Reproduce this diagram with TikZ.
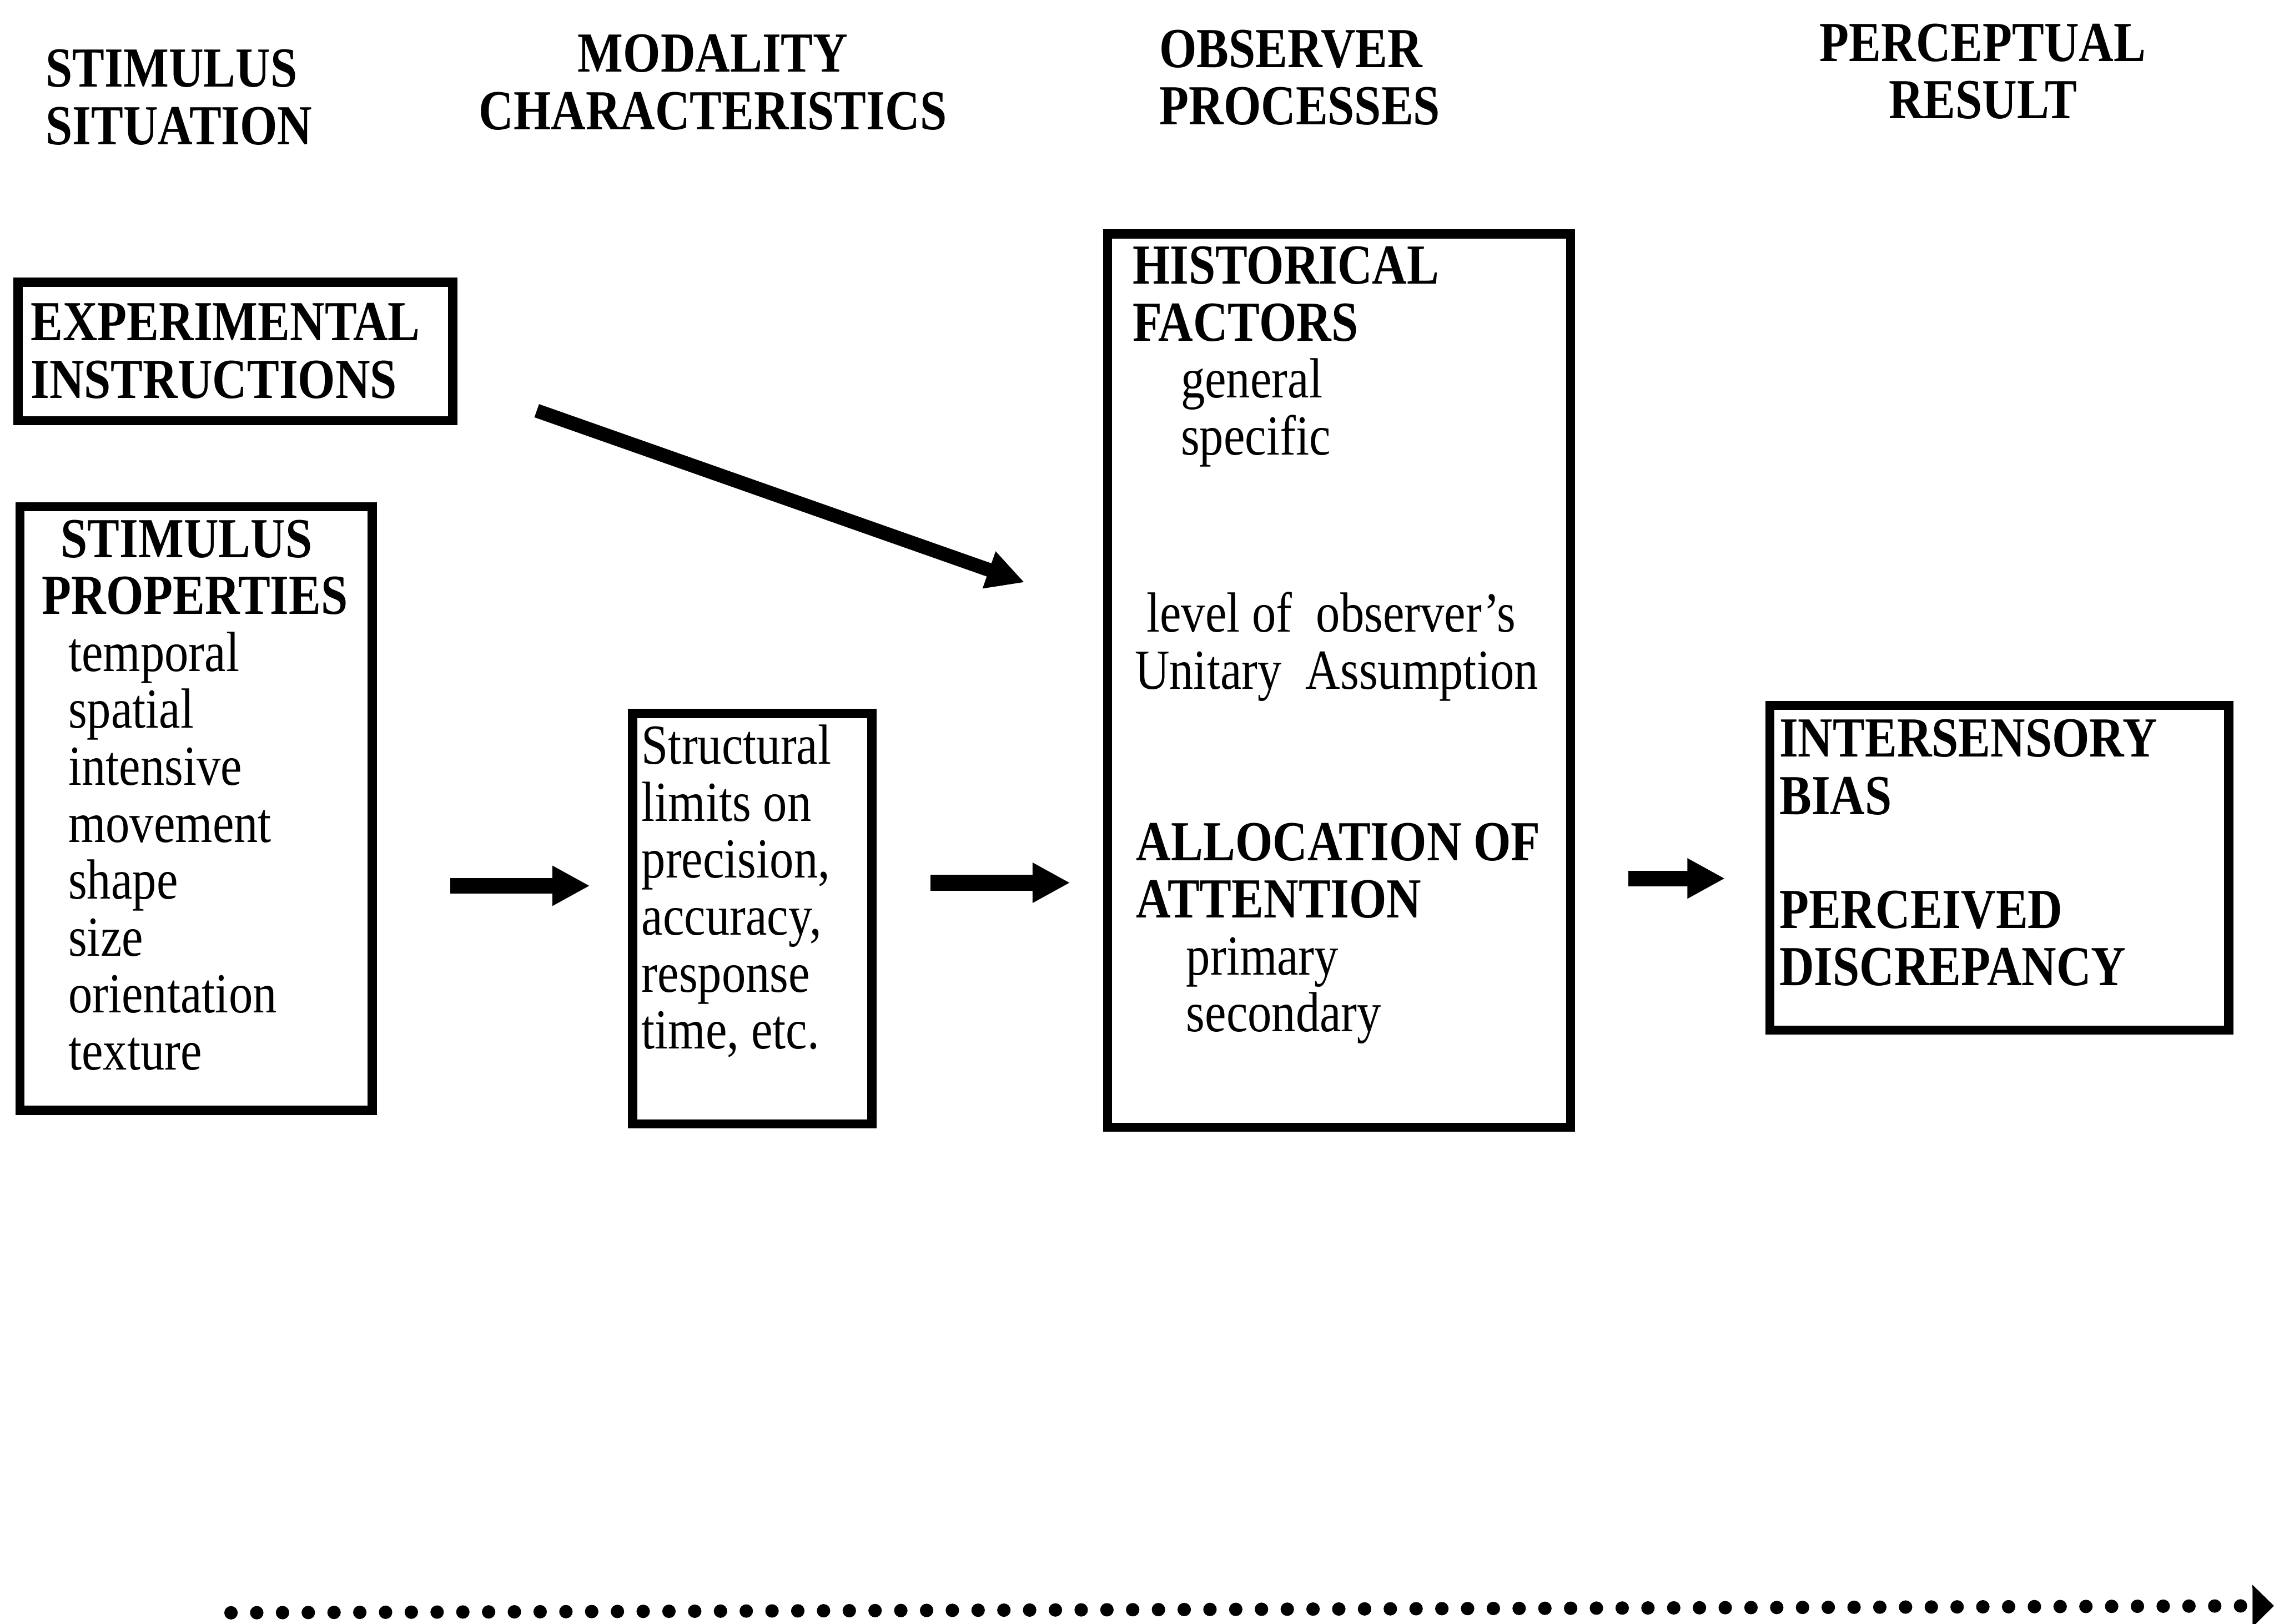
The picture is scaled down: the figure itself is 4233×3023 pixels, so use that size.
\documentclass[tikz,border=0pt]{standalone}
\usepackage{fontspec}
\setmainfont{Liberation Serif}[FakeStretch=0.85]
\usetikzlibrary{arrows.meta}

\begin{document}
\begin{tikzpicture}[
    x=0.005cm, y=-0.005cm,
    box/.style={rectangle, draw, line width=0.085cm, inner sep=0pt, anchor=north west},
    txt/.style={inner sep=0pt, align=left, anchor=base west, font=\fontsize{15}{15.1}\selectfont},
    head/.style={txt, font=\fontsize{15}{15.2}\selectfont\bfseries},
    fat/.style={line width=0.145cm, -{Triangle[length=0.35cm, width=0.35cm]}},
    dots/.style={line width=0.125cm, line cap=round, dash pattern=on 0pt off 0.24cm, -{Triangle[length=0.2cm, width=0.38cm]}},
]
\useasboundingbox (0,0) rectangle (4233,3023);

% === Column headings (placed by their last baseline) ===
\node[head] (hstim) at (84,269) {STIMULUS\\SITUATION};
\node[head, align=center, anchor=base] (hmod) at (1327,241) {MODALITY\\CHARACTERISTICS};
\node[head] (hobs) at (2157,232) {OBSERVER\\PROCESSES};
\node[head, align=center, anchor=base] (hres) at (3691,221) {PERCEPTUAL\\RESULT};

% === Stimulus situation ===
\node[box, minimum width=4.05cm, minimum height=1.29cm] (expbox) at (25,517) {};
\node[head] (exptxt) at (56,741) {EXPERIMENTAL\\INSTRUCTIONS};

\node[box, minimum width=3.28cm, minimum height=5.625cm] (stimbox) at (29,935) {};
\node[txt] (stimtxt) at (77,1992) {\hspace*{0.175cm}\textbf{STIMULUS}\\\textbf{PROPERTIES}\\
    \hspace*{0.245cm}temporal\\\hspace*{0.245cm}spatial\\\hspace*{0.245cm}intensive\\
    \hspace*{0.245cm}movement\\\hspace*{0.245cm}shape\\\hspace*{0.245cm}size\\
    \hspace*{0.245cm}orientation\\\hspace*{0.245cm}texture};

% === Modality characteristics ===
\node[box, minimum width=2.23cm, minimum height=3.825cm] (structbox) at (1169,1320) {};
\node[txt] (structtxt) at (1193,1953) {Structural\\limits on\\precision,\\accuracy,\\response\\time, etc.};

% === Observer processes ===
\node[box, minimum width=4.315cm, minimum height=8.325cm] (obsbox) at (2053,427) {};
\node[txt] (histtxt) at (2107,847) {\textbf{HISTORICAL}\\\textbf{FACTORS}\\
    \hspace*{0.45cm}general\\\hspace*{0.45cm}specific};
\node[txt] (unittxt) at (2111,1283) {\hspace*{0.11cm}level of\ \ observer's\\Unitary\ \ Assumption};
\node[txt] (alloctxt) at (2114,1921) {\textbf{ALLOCATION OF}\\\textbf{ATTENTION}\\
    \hspace*{0.465cm}primary\\\hspace*{0.465cm}secondary};

% === Perceptual result ===
\node[box, minimum width=4.275cm, minimum height=3.025cm] (resbox) at (3286,1305) {};
\node[head] (restxt) at (3311,1835) {INTERSENSORY\\BIAS\\[15pt]PERCEIVED\\DISCREPANCY};

% === Arrows ===
\coordinate (a1) at ([yshift=-0.72cm]stimbox.east);
\draw[fat, shorten <=0.685cm, shorten >=0.355cm] (a1) -- (a1 -| structbox.west);

\coordinate (a2) at ([yshift=0.335cm]structbox.east);
\draw[fat, shorten <=0.505cm, shorten >=0.305cm] (a2) -- (a2 -| obsbox.west);

\coordinate (a3) at ([yshift=-0.1cm]resbox.west);
\draw[fat, shorten <=0.495cm, shorten >=0.375cm] (a3 -| obsbox.east) -- (a3);

% instructions feed the observer
\draw[fat, line width=0.13cm, -{Triangle[length=0.35cm, width=0.34cm]}]
    ([xshift=0.74cm, yshift=0.135cm]expbox.south east) -- ([xshift=-0.73cm, yshift=0.915cm]obsbox.west);

% === Time line ===
\coordinate (tl0) at (430,3003);
\coordinate (tl1) at (4233,2990);
\draw[dots] (tl0) -- (tl1);

\end{tikzpicture}
\end{document}
